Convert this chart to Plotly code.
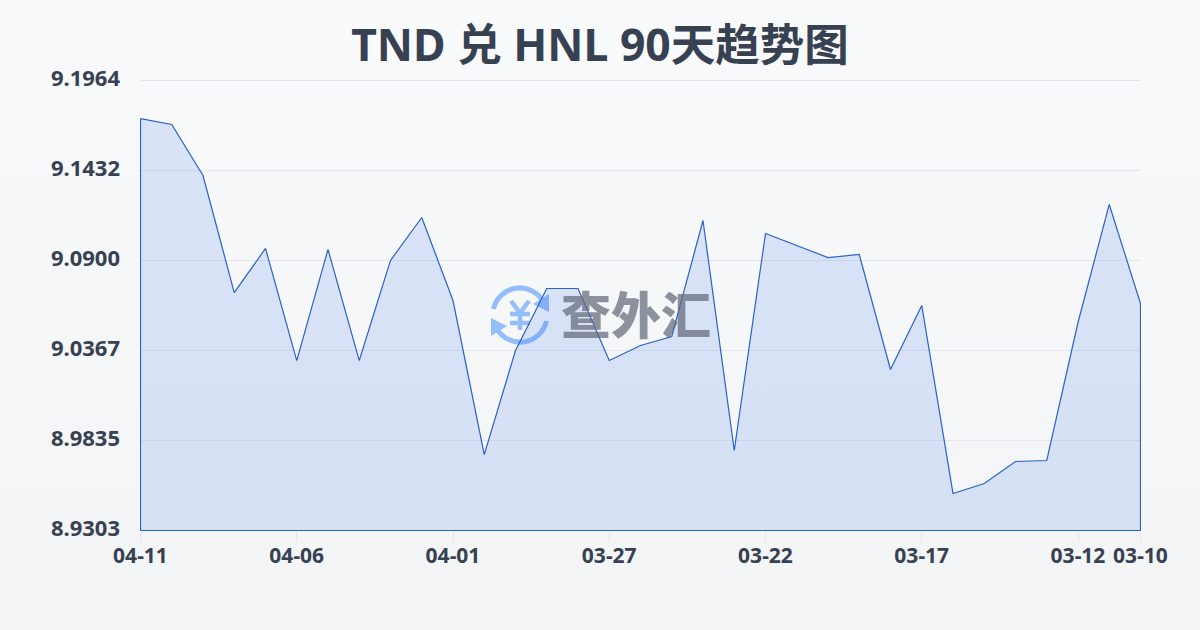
import base64
import plotly.graph_objects as go

title_text = "TND 兑 HNL 90天趋势图"
watermark_text = "查外汇"
dates = ["04-11","04-10","04-09","04-08","04-07","04-06","04-05","04-04","04-03","04-02","04-01",
         "03-31","03-30","03-29","03-28","03-27","03-26","03-25","03-24","03-23","03-22",
         "03-21","03-20","03-19","03-18","03-17","03-16","03-15","03-14","03-13","03-12","03-11","03-10"]
rates = [9.1739,9.1704,9.1402,9.0710,9.0971,9.0308,9.0965,9.0308,9.0900,9.1154,9.0663,
         8.9752,9.0367,9.0734,9.0734,9.0308,9.0397,9.0450,9.1136,8.9776,9.1059,
         9.0988,9.0917,9.0935,9.0255,9.0634,8.9522,8.9581,8.9711,8.9717,9.0533,9.1231,9.0645]
x_ticks = ["04-11","04-06","04-01","03-27","03-22","03-17","03-12","03-10"]
y_ticks = [9.1964,9.1432,9.0900,9.0367,8.9835,8.9303]
y_labels = ["9.1964","9.1432","9.0900","9.0367","8.9835","8.9303"]
y_floor = 8.9303
y_ceil = 9.1964

TEXT = "#374151"
svg = """<svg xmlns="http://www.w3.org/2000/svg" width="1200" height="630" viewBox="0 0 1200 630">
<defs><linearGradient id="g" x1="0" y1="0" x2="0" y2="1"><stop offset="0" stop-color="#f8fafc"/><stop offset="1" stop-color="#f2f4f6"/></linearGradient></defs>
<rect width="1200" height="630" fill="url(#g)"/>
<g fill="none" stroke="#93bdfb" stroke-width="5">
<path d="M493.5 309 A27 27 0 0 1 543 301"/>
<path d="M546.5 321 A27 27 0 0 1 497 329"/>
</g>
<path d="M549 294 L549 312 L533 304 Z" fill="#93bdfb"/>
<path d="M491 336 L491 318 L507 326 Z" fill="#93bdfb"/>
<g fill="none" stroke="#93bdfb" stroke-width="4.5">
<path d="M511 301 L520 313 L529 301 M520 313 L520 330 M510 314 L530 314 M510 323 L530 323"/>
</g>
</svg>"""
bg_uri = "data:image/svg+xml;base64," + base64.b64encode(svg.encode()).decode()

# Closed outline: the series, then down to the baseline and back to the start
poly_x = dates + [dates[-1], dates[0], dates[0]]
poly_y = rates + [y_floor, y_floor, rates[0]]

fig = go.Figure(go.Scatter(
    x=poly_x, y=poly_y, mode="lines", fill="toself", cliponaxis=False,
    line=dict(color="#2a62c9", width=1.2),
    fillcolor="rgba(37,99,235,0.14)",
    hoverinfo="skip", showlegend=False,
))

# half-pixel padding so the outline lands crisply on pixel rows and columns
pad_x = 0.5 * (len(dates) - 1) / 1000
pad_y = 0.5 * (y_ceil - y_floor) / 450

FONT = "'Noto Sans','Noto Sans CJK SC',sans-serif"
fig.update_layout(
    width=1200, height=630, autosize=False,
    margin=dict(l=140, r=59, t=80, b=99),
    paper_bgcolor="#f8fafc", plot_bgcolor="rgba(0,0,0,0)",
    font=dict(family=FONT, color=TEXT),
    title=dict(text=title_text, x=0.5, xanchor="center", y=0.928, yanchor="middle",
               font=dict(size=44.5, color=TEXT, family=FONT, weight=700)),
    xaxis=dict(type="category", categoryorder="array", categoryarray=dates,
               range=[-pad_x, len(dates) - 1 + pad_x],
               tickmode="array", tickvals=x_ticks, ticktext=x_ticks, showgrid=False, zeroline=False,
               ticks="outside", ticklen=10, tickwidth=1, tickcolor="#e2e5ea", showline=False,
               tickangle=0, ticklabelstandoff=-4,
               tickfont=dict(size=21, color=TEXT, family=FONT, weight=700)),
    yaxis=dict(range=[y_floor - pad_y, y_ceil + pad_y], tickmode="array", tickvals=y_ticks, ticktext=y_labels,
               showgrid=True, gridcolor="#e3e7ed", gridwidth=1, zeroline=False, showline=False,
               ticks="", ticklabelstandoff=19, ticklabelshift=-2,
               tickfont=dict(size=22, color=TEXT, family=FONT, weight=700)),
    shapes=[dict(type="line", xref="x", x0=dates[0], x1=dates[-1], yref="paper", y0=1 - 0.5/451, y1=1 - 0.5/451,
                 line=dict(color="#e3e7ed", width=1), layer="below")],
    images=[dict(source=bg_uri, xref="paper", yref="paper", x=-140/1001, y=1 + 80/451,
                 sizex=1200/1001, sizey=630/451, sizing="stretch", xanchor="left", yanchor="top", layer="below")],
    annotations=[dict(text=watermark_text, xref="paper", yref="paper", x=(636 - 140)/1001, y=(531 - 312)/451,
                      xanchor="center", yanchor="middle", showarrow=False,
                      font=dict(size=50, color="rgba(100,106,122,0.72)", family="'Noto Sans CJK SC'", weight=900))],
)
fig.write_html("out.html", config={"displayModeBar": False}, post_script="document.body.style.margin='0';")
